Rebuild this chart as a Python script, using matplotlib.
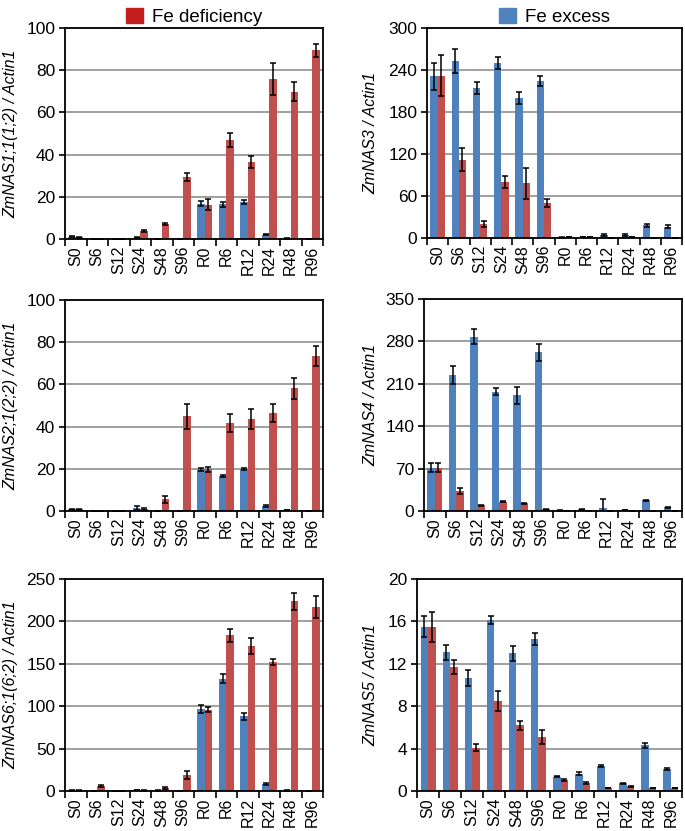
import numpy as np
import matplotlib
matplotlib.use('Agg')
import matplotlib.pyplot as plt
import matplotlib.patches as mpatches

plt.rcParams['font.family'] = ['Liberation Sans', 'DejaVu Sans']

cats = ['S0', 'S6', 'S12', 'S24', 'S48', 'S96', 'R0', 'R6', 'R12', 'R24', 'R48', 'R96']

# ZmNAS1;1(1:2)
nas1_ex = [1.0, 0.1, 0.1, 0.6, 0.1, 0.1, 16.8, 16.5, 17.6, 2.1, 0.3, 0.1]
nas1_ex_err = [0.2, 0, 0, 0.2, 0, 0, 1.0, 1.2, 1.0, 0.4, 0.1, 0]
nas1_def = [0.8, 0.1, 0.1, 3.8, 7.1, 29.5, 16.3, 46.8, 36.4, 75.8, 69.8, 89.5]
nas1_def_err = [0.2, 0, 0, 0.6, 0.6, 1.8, 2.6, 3.4, 2.9, 7.5, 4.4, 3.1]

# ZmNAS3
nas3_ex = [231, 253, 214, 250, 200, 224, 1.0, 1.5, 4.3, 4.0, 18, 16]
nas3_ex_err = [19, 17, 9, 9, 8, 7, 0.3, 0.3, 1.0, 1.0, 2, 2]
nas3_def = [232, 112, 20, 80, 78, 50, 1.0, 1.0, 0.5, 1.0, 0.5, 0.3]
nas3_def_err = [29, 16, 4, 8, 22, 6, 0.2, 0.2, 0.1, 0.2, 0.1, 0.1]

# ZmNAS2;1(2:2)
nas2_ex = [0.9, 0.1, 0.1, 1.4, 0.1, 0.1, 19.8, 16.6, 19.8, 2.5, 0.5, 0.1]
nas2_ex_err = [0.2, 0, 0, 1.0, 0, 0, 0.8, 0.3, 0.6, 0.5, 0.1, 0]
nas2_def = [0.8, 0.1, 0.1, 1.1, 5.5, 44.9, 19.7, 41.8, 43.5, 46.5, 58.1, 73.4]
nas2_def_err = [0.2, 0, 0, 0.5, 1.5, 6.0, 1.2, 4.4, 4.7, 4.1, 5.0, 4.9]

# ZmNAS4
nas4_ex = [71.5, 225, 288, 197, 191, 262, 1.0, 3.0, 5.0, 1.5, 17.7, 6.0]
nas4_ex_err = [7, 15, 13, 6, 14, 14, 0.3, 1.0, 14, 0.3, 1.0, 1.0]
nas4_def = [71.5, 33, 9.5, 15.5, 12.7, 2.8, 0.5, 0.5, 0.1, 0.5, 0.1, 0.1]
nas4_def_err = [7, 5, 1, 1, 1, 1, 0.1, 0.1, 0, 0.1, 0, 0]

# ZmNAS6;1(6:2)
nas6_ex = [0.5, 0.1, 0.3, 1.0, 0.5, 0.1, 96.5, 132.5, 88, 7.9, 0.5, 0.1]
nas6_ex_err = [0.2, 0, 0.1, 0.2, 0.1, 0, 4.5, 5, 4, 1, 0.1, 0]
nas6_def = [0.5, 5.9, 0.3, 0.5, 3.5, 18.9, 96, 183.5, 171, 152, 224, 217]
nas6_def_err = [0.1, 1.0, 0.1, 0.1, 1.0, 4.3, 2.5, 7.5, 9, 4, 10, 13]

# ZmNAS5
nas5_ex = [15.5, 13.1, 10.7, 16.15, 13.0, 14.35, 1.36, 1.64, 2.37, 0.75, 4.32, 2.05]
nas5_ex_err = [1.0, 0.7, 0.75, 0.4, 0.7, 0.6, 0.05, 0.15, 0.1, 0.05, 0.25, 0.1]
nas5_def = [15.5, 11.7, 4.1, 8.5, 6.2, 5.1, 1.0, 0.76, 0.3, 0.45, 0.3, 0.3]
nas5_def_err = [1.4, 0.65, 0.3, 0.95, 0.45, 0.65, 0.1, 0.1, 0.03, 0.05, 0.03, 0.03]

blue = '#4F81BD'
red = '#C0504D'

W, H = 685, 831
fig = plt.figure(figsize=(W / 100, H / 100), dpi=100)


def make_ax(l, r, t, b):
    return fig.add_axes([l / W, 1 - b / H, (r - l) / W, (b - t) / H])


def draw(ax, ex, ex_err, de, de_err, ymax, step, ylabel, label_x):
    x = np.arange(len(cats))
    w = 0.34
    ekw = dict(elinewidth=1.1, capthick=1.1, ecolor='black')
    ax.bar(x - w / 2, ex, w, yerr=ex_err, color=blue, capsize=2.5, error_kw=ekw, zorder=2)
    ax.bar(x + w / 2, de, w, yerr=de_err, color=red, capsize=2.5, error_kw=ekw, zorder=2)
    ax.set_xlim(-0.5, len(cats) - 0.5)
    ax.set_ylim(0, ymax)
    ax.set_yticks(np.arange(0, ymax + step / 2, step))
    ax.set_xticks(x)
    ax.set_xticklabels(cats, rotation=90, fontsize=11.5)
    ax.set_xticks(np.arange(-0.5, len(cats), 1), minor=True)
    ax.tick_params(axis='x', which='major', length=0, pad=5)
    ax.tick_params(axis='x', which='minor', length=5, width=1.2, direction='out')
    ax.tick_params(axis='y', length=4, width=1.2, direction='out', labelsize=12.5, pad=3)
    ax.yaxis.grid(True, color='#8f8f8f', lw=1.2)
    ax.set_axisbelow(True)
    for s in ax.spines.values():
        s.set_linewidth(1.3)
    ax.set_ylabel(ylabel, fontsize=11.5, style='italic')
    ax.yaxis.set_label_coords(label_x, 0.5)


ax1 = make_ax(65, 323, 28, 239)
draw(ax1, nas1_ex, nas1_ex_err, nas1_def, nas1_def_err, 100, 20,
     'ZmNAS1;1(1;2) / Actin1', (18 - 65) / 258)
ax2 = make_ax(427, 682, 28, 238)
draw(ax2, nas3_ex, nas3_ex_err, nas3_def, nas3_def_err, 300, 60,
     'ZmNAS3 / Actin1', (378 - 427) / 255)
ax3 = make_ax(65, 323, 300, 511)
draw(ax3, nas2_ex, nas2_ex_err, nas2_def, nas2_def_err, 100, 20,
     'ZmNAS2;1(2;2) / Actin1', (18 - 65) / 258)
ax4 = make_ax(424, 682, 299, 511)
draw(ax4, nas4_ex, nas4_ex_err, nas4_def, nas4_def_err, 350, 70,
     'ZmNAS4 / Actin1', (378 - 424) / 258)
ax5 = make_ax(65, 323, 579, 791)
draw(ax5, nas6_ex, nas6_ex_err, nas6_def, nas6_def_err, 250, 50,
     'ZmNAS6;1(6;2) / Actin1', (18 - 65) / 258)
ax6 = make_ax(417, 682, 579, 791)
draw(ax6, nas5_ex, nas5_ex_err, nas5_def, nas5_def_err, 20, 4,
     'ZmNAS5 / Actin1', (378 - 417) / 265)

ax1.legend(handles=[mpatches.Patch(color='#C41E1E')], labels=['Fe deficiency'],
           loc='lower center', bbox_to_anchor=(0.5, 1.0), frameon=False,
           fontsize=13.5, handlelength=0.9, handleheight=0.9, handletextpad=0.5,
           borderpad=0.1, borderaxespad=0.0)
ax2.legend(handles=[mpatches.Patch(color=blue)], labels=['Fe excess'],
           loc='lower center', bbox_to_anchor=(0.5, 1.0), frameon=False,
           fontsize=13.5, handlelength=0.9, handleheight=0.9, handletextpad=0.5,
           borderpad=0.1, borderaxespad=0.0)

fig.savefig('out.png', dpi=100)
